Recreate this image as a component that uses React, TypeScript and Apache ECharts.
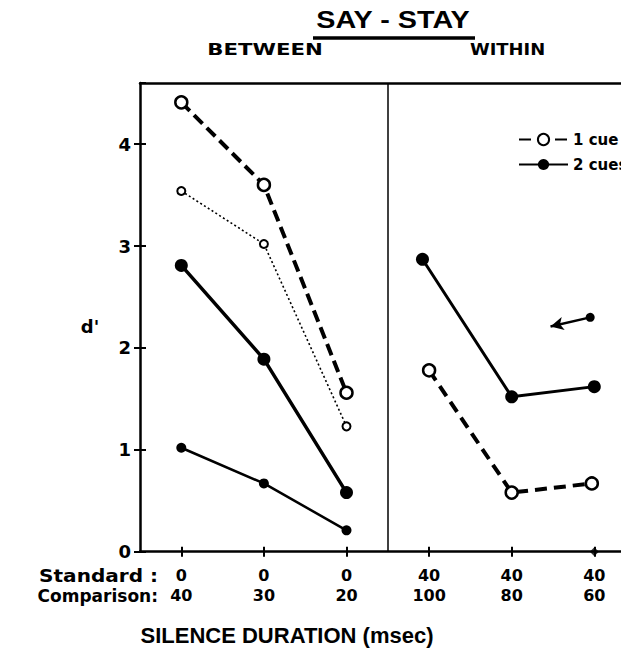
import React, { useEffect, useRef } from 'react';
import * as echarts from 'echarts';

// ---- data ----
const categories = ['0/40', '0/30', '0/20', '40/100', '40/80', '40/60'];
const standardMs = ['0', '0', '0', '40', '40', '40'];
const comparisonMs = ['40', '30', '20', '100', '80', '60'];

// BETWEEN
const betweenOneCueLarge = [[0, 4.41], [1, 3.60], [2, 1.56]];
const betweenOneCueSmall = [[0, 3.54], [1, 3.02], [2, 1.23]];
const betweenTwoCuesLarge = [[0, 2.81], [1, 1.89], [2, 0.58]];
const betweenTwoCuesSmall = [[0, 1.02], [1, 0.67], [2, 0.21]];
// WITHIN
const withinTwoCues = [[2.92, 2.87], [4, 1.52], [5, 1.62]];
const withinOneCue = [[3, 1.78], [4, 0.58], [4.97, 0.67]];
const axisPoint = [[5, 0]];
const arrowFrom = [4.95, 2.30];
const arrowTo = [4.47, 2.21];
const dividerAt = 2.5;

const legendNames = ['1 cue', '2 cues'];

const HEAVY = 'DejaVu Sans';

export default function App() {
  const ref = useRef<HTMLDivElement>(null);

  useEffect(() => {
    if (!ref.current) return;
    const chart = echarts.init(ref.current, undefined, { renderer: 'svg' });

    const openCircle = (size: number, bw: number) => ({
      symbol: 'circle',
      symbolSize: size,
      itemStyle: { color: '#fff', borderColor: '#000', borderWidth: bw },
    });
    const filledCircle = (size: number) => ({
      symbol: 'circle',
      symbolSize: size,
      itemStyle: { color: '#000', borderColor: '#000', borderWidth: 0 },
    });

    const base = {
      type: 'line',
      xAxisIndex: 3,
      yAxisIndex: 0,
      showSymbol: true,
      silent: true,
      z: 3,
    };

    chart.setOption({
      animation: false,
      backgroundColor: '#fff',
      grid: { left: 132, right: 12.4, top: 75, bottom: 99.3, containLabel: false },
      legend: {
        data: legendNames,
        orient: 'vertical',
        left: 505,
        top: 119,
        itemWidth: 49,
        itemHeight: 14,
        itemGap: 10,
        textStyle: { fontFamily: HEAVY, fontWeight: 'bold', fontSize: 15, color: '#000' },
      },
      xAxis: [
        {
          type: 'category',
          data: categories,
          position: 'bottom',
          boundaryGap: true,
          axisLine: { show: true, onZero: false, lineStyle: { color: '#000', width: 2.5 } },
          axisTick: { show: true, alignWithLabel: true, length: 5, lineStyle: { color: '#000', width: 2 } },
          axisLabel: {
            formatter: (_v: string, i: number) => `${standardMs[i]}\n${comparisonMs[i]}`,
            fontFamily: HEAVY,
            fontWeight: 'bold',
            fontSize: 16,
            lineHeight: 20,
            margin: 14,
            color: '#000',
          },
          splitLine: { show: false },
        },
        {
          type: 'category',
          data: categories,
          position: 'bottom',
          boundaryGap: true,
          axisLine: { show: false, onZero: false },
          axisTick: { show: true, inside: true, alignWithLabel: true, length: 5, lineStyle: { color: '#000', width: 2 } },
          axisLabel: { show: false },
          splitLine: { show: false },
        },
        {
          type: 'category',
          data: categories,
          position: 'top',
          boundaryGap: true,
          axisLine: { show: true, onZero: false, lineStyle: { color: '#000', width: 2.5 } },
          axisTick: { show: false },
          axisLabel: { show: false },
          splitLine: { show: false },
        },
        { type: 'value', min: -0.5, max: 5.5, show: false, axisLine: { onZero: false } },
      ],
      yAxis: [
        {
          type: 'value',
          min: 0,
          max: 4.6,
          interval: 1,
          position: 'left',
          axisLine: { show: true, onZero: false, lineStyle: { color: '#000', width: 2.5 } },
          axisTick: { show: true, length: 6, lineStyle: { color: '#000', width: 2 } },
          axisLabel: { fontFamily: HEAVY, fontWeight: 'bold', fontSize: 18, margin: 9, color: '#000', showMaxLabel: false },
          splitLine: { show: false },
        },
        {
          type: 'value',
          min: 0,
          max: 4.6,
          interval: 1,
          position: 'left',
          axisLine: { show: false, onZero: false },
          axisTick: { show: true, inside: true, length: 6, lineStyle: { color: '#000', width: 2 } },
          axisLabel: { show: false },
          splitLine: { show: false },
        },
      ],
      series: [
        {
          ...base,
          name: '1 cue',
          data: betweenOneCueLarge,
          lineStyle: { color: '#000', width: 4, type: [12, 6] },
          ...openCircle(12, 2.5),
        },
        {
          ...base,
          name: '1 cue',
          data: betweenOneCueSmall,
          lineStyle: { color: '#000', width: 1.6, type: [2, 2.5] },
          ...openCircle(8, 2),
        },
        {
          ...base,
          name: '2 cues',
          data: betweenTwoCuesLarge,
          lineStyle: { color: '#000', width: 3.5, type: 'solid' },
          ...filledCircle(13),
        },
        {
          ...base,
          name: '2 cues',
          data: betweenTwoCuesSmall,
          lineStyle: { color: '#000', width: 2.5, type: 'solid' },
          ...filledCircle(10),
        },
        {
          ...base,
          name: '2 cues',
          data: withinTwoCues,
          lineStyle: { color: '#000', width: 3, type: 'solid' },
          ...filledCircle(13),
        },
        {
          ...base,
          name: '1 cue',
          data: withinOneCue,
          lineStyle: { color: '#000', width: 4, type: [12, 7] },
          ...openCircle(12, 2.5),
        },
        {
          type: 'scatter',
          name: 'axis',
          xAxisIndex: 3,
          yAxisIndex: 0,
          data: axisPoint,
          symbol: 'diamond',
          symbolSize: 9,
          itemStyle: { color: '#000' },
          silent: true,
          z: 4,
          markLine: {
            silent: true,
            symbol: ['none', 'none'],
            label: { show: false },
            data: [
              [
                { coord: arrowFrom, symbol: 'circle', symbolSize: 9, lineStyle: { color: '#000', width: 2.5, type: 'solid' } },
                { coord: arrowTo, symbol: 'arrow', symbolSize: [10, 13] },
              ],
              { xAxis: dividerAt, lineStyle: { color: '#000', width: 1.5, type: 'solid' } },
            ],
          },
        },
      ],
      graphic: [
        {
          type: 'text',
          x: 385,
          y: 12,
          scaleX: 1.25,
          style: {
            text: 'SAY - STAY',
            fontFamily: 'Liberation Sans',
            fontWeight: 'bold',
            fontSize: 23,
            fill: '#000',
            textAlign: 'center',
            textVerticalAlign: 'middle',
          },
        },
        {
          type: 'line',
          shape: { x1: 305, y1: 30, x2: 467, y2: 30 },
          style: { stroke: '#000', lineWidth: 3.5 },
        },
        {
          type: 'text',
          x: 257,
          y: 41,
          scaleX: 1.33,
          style: {
            text: 'BETWEEN',
            fontFamily: HEAVY,
            fontWeight: 'bold',
            fontSize: 16,
            fill: '#000',
            textAlign: 'center',
            textVerticalAlign: 'middle',
          },
        },
        {
          type: 'text',
          x: 499.5,
          y: 41,
          scaleX: 1.12,
          style: {
            text: 'WITHIN',
            fontFamily: HEAVY,
            fontWeight: 'bold',
            fontSize: 16,
            fill: '#000',
            textAlign: 'center',
            textVerticalAlign: 'middle',
          },
        },
        {
          type: 'text',
          x: 150,
          y: 568,
          scaleX: 1.18,
          style: {
            text: 'Standard :',
            fontFamily: HEAVY,
            fontWeight: 'bold',
            fontSize: 17,
            fill: '#000',
            textAlign: 'right',
            textVerticalAlign: 'middle',
          },
        },
        {
          type: 'text',
          x: 150,
          y: 588,
          style: {
            text: 'Comparison:',
            fontFamily: HEAVY,
            fontWeight: 'bold',
            fontSize: 17,
            fill: '#000',
            textAlign: 'right',
            textVerticalAlign: 'middle',
          },
        },
        {
          type: 'text',
          x: 279,
          y: 627,
          style: {
            text: 'SILENCE DURATION (msec)',
            fontFamily: 'Liberation Sans',
            fontWeight: 'bold',
            fontSize: 22,
            fill: '#000',
            textAlign: 'center',
            textVerticalAlign: 'middle',
          },
        },
        {
          type: 'text',
          x: 82,
          y: 318,
          style: {
            text: "d'",
            fontFamily: HEAVY,
            fontWeight: 'bold',
            fontSize: 18,
            fill: '#000',
            textAlign: 'center',
            textVerticalAlign: 'middle',
          },
        },
      ],
    });

    return () => chart.dispose();
  }, []);

  return (
    <div style={{ width: 621, height: 643, overflow: 'hidden' }}>
      <div ref={ref} style={{ width: 640, height: 643 }} />
    </div>
  );
}
